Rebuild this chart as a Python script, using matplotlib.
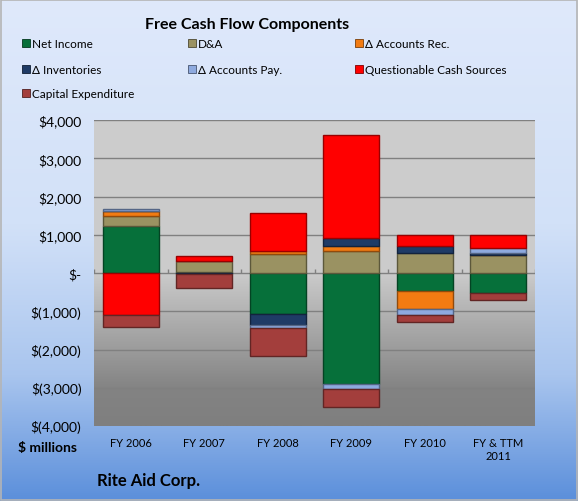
import numpy as np
import matplotlib
matplotlib.use("Agg")
import matplotlib.pyplot as plt
from matplotlib.patches import Rectangle
from matplotlib.colors import LinearSegmentedColormap, to_rgb

plt.rcParams['font.family'] = ['Lato', 'DejaVu Sans']

# data ($ millions)
years = ["FY 2006", "FY 2007", "FY 2008", "FY 2009", "FY 2010", "FY & TTM\n2011"]
net_income = [1230, 25, -1070, -2900, -480, -530]
dna = [255, 290, 495, 565, 520, 480]
accounts_rec = [130, 0, 85, 130, -450, 0]
inventories = [0, -35, -295, 215, 190, 50]
accounts_pay = [70, 0, -85, -125, -155, 120]
questionable = [-1090, 135, 990, 2700, 290, 340]
capex = [-330, -350, -720, -480, -190, -175]

names = ["Net Income", "D&A", "\u0394 Accounts Rec.", "\u0394 Inventories",
         "\u0394 Accounts Pay.", "Questionable Cash Sources", "Capital Expenditure"]
series = [net_income, dna, accounts_rec, inventories, accounts_pay, questionable, capex]
colors = ["#06703a", "#9a9262", "#f27b12", "#1f3b66", "#8eaadf", "#ff0000", "#a33e3c"]
yticks = [4000, 3000, 2000, 1000, 0, -1000, -2000, -3000, -4000]


def money(v):
    if v == 0:
        return "$-"
    if v < 0:
        return "$({:,})".format(-v)
    return "${:,}".format(v)


def darker(c, f=0.6):
    r, g, b = to_rgb(c)
    return (r * f, g * f, b * f)


fig = plt.figure(figsize=(5.78, 5.02), dpi=100)

# figure background gradient
bg = fig.add_axes([0, 0, 1, 1], zorder=-10)
bg_cmap = LinearSegmentedColormap.from_list(
    "bg", [(0, "#dfe9fb"), (0.45, "#d2e1f8"), (0.75, "#a9c5ee"), (1, "#5b8fdb")])
bg.imshow(np.linspace(0, 1, 256).reshape(-1, 1), aspect="auto", cmap=bg_cmap,
          extent=[0, 1, 0, 1], origin="upper")
bg.add_patch(Rectangle((0.002, 0.002), 0.996, 0.996, fill=False,
                       edgecolor="#b5b5b5", lw=1.2, transform=bg.transAxes))
bg.set_xlim(0, 1)
bg.set_ylim(0, 1)
bg.axis("off")

ax = fig.add_axes([94 / 578, 75 / 502, 441 / 578, 306 / 502])
x = np.arange(len(years))

# plot area gradient
pa_cmap = LinearSegmentedColormap.from_list(
    "pa", [(0, "#cdcdcd"), (0.5, "#cbcbcb"), (0.88, "#838383"), (1, "#7f7f7f")])
ax.imshow(np.linspace(0, 1, 256).reshape(-1, 1), aspect="auto", cmap=pa_cmap,
          extent=[-0.5, 5.5, -4000, 4000], origin="upper", zorder=0)

for v in yticks:
    ax.axhline(v, color="#808080", lw=1.0, zorder=1)

pos_base = np.zeros(len(years))
neg_base = np.zeros(len(years))
for vals, c in zip(series, colors):
    vals = np.array(vals, dtype=float)
    bottoms = np.where(vals >= 0, pos_base, neg_base)
    ax.bar(x, vals, bottom=bottoms, width=0.76, color=c,
           edgecolor=darker(c), linewidth=1.0, zorder=3)
    pos_base += np.where(vals > 0, vals, 0)
    neg_base += np.where(vals < 0, vals, 0)

# small category ticks on the zero line
ax.vlines(np.arange(-0.5, 6, 1), 0, 110, color="#808080", lw=1.0, zorder=2)

ax.set_xlim(-0.5, 5.5)
ax.set_ylim(-4000, 4000)
ax.set_yticks(yticks)
ax.set_yticklabels([money(v) for v in yticks], fontsize=10)
ax.set_xticks(x)
ax.set_xticklabels(years, fontsize=8)
ax.tick_params(length=0, pad=9)
ax.tick_params(axis="x", pad=8)
for s in ax.spines.values():
    s.set_visible(False)

fig.text(247 / 578, 1 - 25 / 502, "Free Cash Flow Components", ha="center",
         va="center", fontsize=11.5, fontweight="bold")

# legend laid out like the original (row by row, three columns)
col_x = [22, 188, 355]
row_y = [44, 70, 94]
for i, (n, c) in enumerate(zip(names, colors)):
    cx = col_x[i % 3]
    cy = row_y[i // 3]
    fig.patches.append(Rectangle((cx / 578, 1 - (cy + 4) / 502), 8 / 578, 8 / 502,
                                 transform=fig.transFigure, facecolor=c,
                                 edgecolor=darker(c, 0.5), lw=0.6))
    fig.text((cx + 10) / 578, 1 - cy / 502, n, ha="left", va="center", fontsize=8.5)

fig.text(47 / 578, 1 - 448 / 502, "$ millions", ha="center", va="center",
         fontsize=10, fontweight="bold")
fig.text(97 / 578, 1 - 481 / 502, "Rite Aid Corp.", ha="left", va="center",
         fontsize=12, fontweight="bold")

fig.savefig("out.png", dpi=100)
